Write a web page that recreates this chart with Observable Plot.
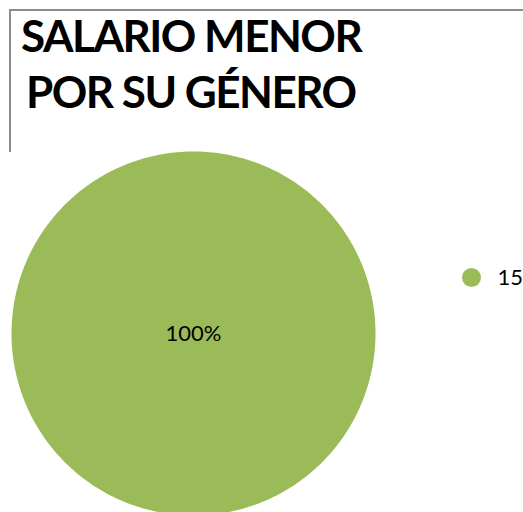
<!DOCTYPE html>
<html>
<head>
<meta charset="utf-8">
<script src="https://cdn.jsdelivr.net/npm/d3@7"></script>
<script src="https://cdn.jsdelivr.net/npm/@observablehq/plot@0.6"></script>
<style>
  html, body { margin: 0; padding: 0; background: #fff; }
  #wrap { position: relative; width: 523px; height: 512px; overflow: hidden; }
  #frame { position: absolute; left: 9px; top: 9px; width: 520px; height: 141px;
           border-top: 2px solid #8c8c8c; border-left: 2px solid #8c8c8c; }
  #title { position: absolute; left: 21px; top: 7px; font-family: Lato, sans-serif; font-weight: 700;
           font-size: 44px; line-height: 56px; letter-spacing: -1.5px; color: #000; white-space: nowrap; }
  #title div:nth-child(2) { padding-left: 5px; }
  #chart { position: absolute; left: 0; top: 0; }
</style>
</head>
<body>
<div id="wrap">
  <div id="frame"></div>
  <div id="title"><div>SALARIO MENOR</div><div>POR SU GÉNERO</div></div>
  <div id="chart"></div>
</div>
<script>
// ---- data ----
const categories = ["15"];
const values = [1];
const colors = ["#9bbb59"];

// ---- build pie slices (unit circle) ----
const total = d3.sum(values);
const arcs = d3.pie().sort(null)(values);
const slicePts = [];
const labels = [];
arcs.forEach((a, i) => {
  const n = 360;
  const full = (a.endAngle - a.startAngle) >= 2 * Math.PI - 1e-9;
  if (!full) slicePts.push({cat: categories[i], x: 0, y: 0});
  for (let k = 0; k <= n; k++) {
    const t = a.startAngle + (a.endAngle - a.startAngle) * k / n;
    slicePts.push({cat: categories[i], x: Math.sin(t), y: Math.cos(t)});
  }
  const mid = (a.startAngle + a.endAngle) / 2;
  const rr = full ? 0 : 0.6;
  labels.push({cat: categories[i], x: rr * Math.sin(mid), y: rr * Math.cos(mid),
               text: d3.format(".0%")(values[i] / total)});
});
const legend = categories.map((c, i) => ({cat: c, x: 1.5275, y: 0.3077 - i * 0.15}));

const plot = Plot.plot({
  width: 523,
  height: 512,
  margin: 0,
  style: {background: "transparent", overflow: "visible"},
  x: {domain: [-1, 1], range: [11, 375], axis: null},
  y: {domain: [-1, 1], range: [515, 151], axis: null},
  color: {domain: categories, range: colors},
  marks: [
    Plot.line(slicePts, {x: "x", y: "y", z: "cat", fill: "cat", stroke: "none", curve: "linear"}),
    Plot.text(labels, {x: "x", y: "y", text: "text", fill: "#000", fontSize: 22,
      fontFamily: "Lato, sans-serif", textAnchor: "middle", lineAnchor: "middle"}),
    Plot.dot(legend, {x: "x", y: "y", r: 9.5, fill: "cat", stroke: "none"}),
    Plot.text(legend, {x: "x", y: "y", text: "cat", dx: 26, fill: "#000", fontSize: 22,
      fontFamily: "Lato, sans-serif", textAnchor: "start", lineAnchor: "middle"})
  ]
});
document.getElementById("chart").appendChild(plot);
</script>
</body>
</html>
